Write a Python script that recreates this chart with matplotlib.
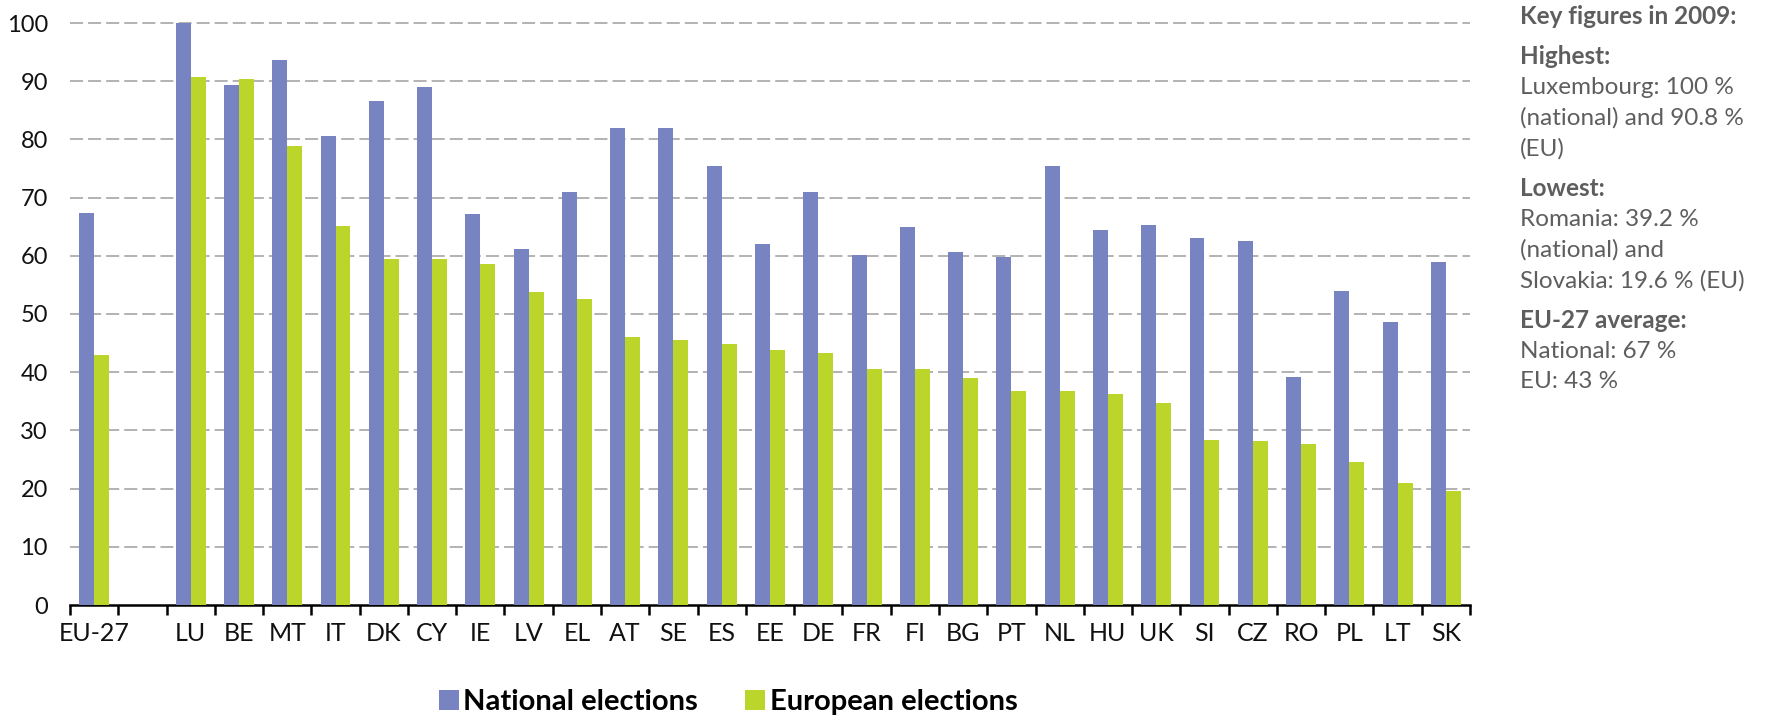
import matplotlib
matplotlib.use("Agg")
import matplotlib.pyplot as plt
from matplotlib.ticker import FixedLocator
import numpy as np

plt.rcParams['font.family'] = ['Lato', 'DejaVu Sans']

# Voter turnout (%) in national and European elections
countries = ["EU-27", "LU", "BE", "MT", "IT", "DK", "CY", "IE", "LV", "EL", "AT",
             "SE", "ES", "EE", "DE", "FR", "FI", "BG", "PT", "NL", "HU", "UK",
             "SI", "CZ", "RO", "PL", "LT", "SK"]
national = [67.3, 100.0, 89.4, 93.6, 80.6, 86.6, 89.0, 67.2, 61.2, 71.0, 82.0,
            82.0, 75.5, 62.0, 70.9, 60.2, 65.0, 60.7, 59.8, 75.5, 64.4, 65.3,
            63.1, 62.6, 39.2, 53.9, 48.7, 59.0]
european = [43.0, 90.8, 90.4, 78.8, 65.1, 59.5, 59.4, 58.6, 53.7, 52.6, 46.0,
            45.5, 44.9, 43.9, 43.3, 40.6, 40.5, 39.0, 36.8, 36.8, 36.3, 34.7,
            28.3, 28.2, 27.7, 24.5, 21.0, 19.6]
series_labels = ["National elections", "European elections"]

key_lines = [
    ("Key figures in 2009:", True),
    None,
    ("Highest:", True),
    ("Luxembourg: 100 %", False),
    ("(national) and 90.8 %", False),
    ("(EU)", False),
    None,
    ("Lowest:", True),
    ("Romania: 39.2 %", False),
    ("(national) and", False),
    ("Slovakia: 19.6 % (EU)", False),
    None,
    ("EU-27 average:", True),
    ("National: 67 %", False),
    ("EU: 43 %", False),
]

BLUE = "#7883C1"
GREEN = "#BCD52B"
GRID = "#B2B2B2"
TEXT_GREY = "#5E5E5E"

W, H = 1789, 721
fig = plt.figure(figsize=(W / 100, H / 100), dpi=100)
ax = fig.add_axes([70 / W, 1 - 605 / H, 1400 / W, (605 - 23) / H])

# EU-27 first, then an empty slot, then the member states
slots = np.array([0] + list(range(2, len(countries) + 1)))
centers = slots + 0.5
bw = 0.31
ax.bar(centers - bw / 2, national, width=bw, color=BLUE, label=series_labels[0], zorder=3)
ax.bar(centers + bw / 2, european, width=bw, color=GREEN, label=series_labels[1], zorder=3)

n_slots = len(countries) + 1
ax.set_xlim(0, n_slots)
ax.set_ylim(0, 100)

# Dashed horizontal gridlines
for yv in range(10, 101, 10):
    ax.axhline(yv, color=GRID, lw=1.4, linestyle=(0, (6.7, 2.6)), zorder=1, clip_on=False)

for s in ("left", "right", "top"):
    ax.spines[s].set_visible(False)
ax.spines["bottom"].set_linewidth(1.8)
ax.spines["bottom"].set_color("black")

ax.set_yticks(range(0, 101, 10))
ax.tick_params(axis="y", length=0, pad=16, labelsize=17, labelcolor="#111111")

ax.set_xticks(centers)
ax.set_xticklabels(countries)
ax.tick_params(axis="x", which="major", length=0, pad=12, labelsize=18, labelcolor="#111111")
ax.xaxis.set_minor_locator(FixedLocator(np.arange(0, n_slots + 1)))
ax.tick_params(axis="x", which="minor", length=7, width=1.8, color="black", direction="out")

# Side panel with key figures
y = 17
for item in key_lines:
    if item is None:
        y += 8
        continue
    txt, bold = item
    fig.text(1520 / W, 1 - y / H, txt, fontsize=17.5, color=TEXT_GREY,
             fontweight="bold" if bold else "normal", va="center", ha="left")
    y += 31

leg = fig.legend(*ax.get_legend_handles_labels(), loc="center",
                 bbox_to_anchor=(728 / W, 1 - 702 / H), ncol=2, frameon=False,
                 handlelength=0.7, handleheight=0.7, handletextpad=0.15,
                 columnspacing=1.6, prop={"weight": "bold", "size": 21})

fig.savefig("out.png", dpi=100, facecolor="white")
